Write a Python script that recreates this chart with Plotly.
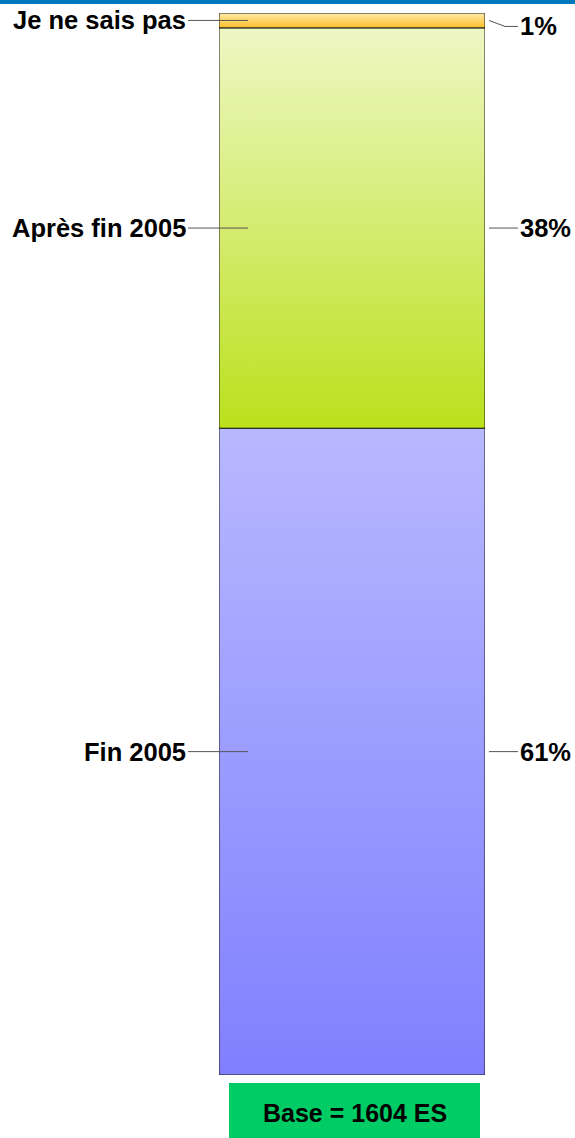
import plotly.graph_objects as go

# Stacked answer shares, bottom to top (segment heights as drawn, printed labels as shown)
categories = ["Fin 2005", "Après fin 2005", "Je ne sais pas"]
values = [60.9, 37.7, 1.4]
pct_labels = ["61%", "38%", "1%"]
base_label = "Base = 1604 ES"

# gradient colours per segment: (bottom, top)
GRADIENTS = [("#8080FF", "#B8B8FF"), ("#BCE01C", "#EEF7C4"), ("#FFBE28", "#FFEBAA")]
EDGE = "#1a1a1a"
LEADER = "#555555"
FONT = "Liberation Sans, Arial, sans-serif"

W, H = 575, 1138
M_L, M_R, M_T, M_B = 219, 90, 13, 63
PLOT_W = W - M_L - M_R
PLOT_H = H - M_T - M_B


def px_x(px):
    return (px - M_L) / PLOT_W


def px_y(py):
    return (H - M_B - py) / PLOT_H


fig = go.Figure()
shapes = []
annotations = []
total = sum(values)

bottom = 0
for cat, val, lab, (c_bot, c_top) in zip(categories, values, pct_labels, GRADIENTS):
    top = bottom + val
    fig.add_trace(go.Scatter(
        x=[-0.5, 0.5, 0.5, -0.5, -0.5], y=[bottom, bottom, top, top, bottom],
        mode="lines", fill="toself", line=dict(color=EDGE, width=1),
        fillgradient=dict(type="vertical", colorscale=[[0, c_bot], [1, c_top]]),
        hoverinfo="skip", showlegend=False,
    ))
    mid = (bottom + top) / 2
    # left label + leader into the bar
    annotations.append(dict(
        x=px_x(188), y=mid, xref="paper", yref="y", xanchor="right", yanchor="middle",
        text="<b>%s</b>" % cat, showarrow=False, font=dict(family=FONT, size=25.5, color="black"),
    ))
    shapes.append(dict(type="line", xref="paper", yref="y", x0=px_x(188), x1=px_x(248),
                       y0=mid, y1=mid, line=dict(color=LEADER, width=1)))
    # right percentage + leader
    small = val < 3
    annotations.append(dict(
        x=px_x(518), y=mid, xref="paper", yref="y", xanchor="left", yanchor="middle",
        yshift=-6 if small else 0,
        text="<b>%s</b>" % lab, showarrow=False, font=dict(family=FONT, size=25.5, color="black"),
    ))
    if small:
        ylow = mid - 6 * total / PLOT_H
        shapes.append(dict(type="path", xref="paper", yref="y",
                           path="M %f,%f L %f,%f L %f,%f" % (px_x(489), mid, px_x(505), ylow, px_x(518), ylow),
                           line=dict(color=LEADER, width=1)))
    else:
        shapes.append(dict(type="line", xref="paper", yref="y", x0=px_x(489), x1=px_x(518),
                           y0=mid, y1=mid, line=dict(color=LEADER, width=1)))
    bottom = top

# blue band along the top edge
shapes.append(dict(type="rect", xref="paper", yref="paper", x0=px_x(0), x1=px_x(W),
                   y0=px_y(4), y1=px_y(0), fillcolor="#0078BE", line=dict(width=0), layer="below"))
# base box under the bar
shapes.append(dict(type="rect", xref="paper", yref="paper", x0=px_x(229), x1=px_x(480),
                   y0=px_y(H), y1=px_y(1083), fillcolor="#00CC66", line=dict(width=0)))
annotations.append(dict(
    x=px_x(354.5), y=px_y(1113), xref="paper", yref="paper", xanchor="center", yanchor="middle",
    text="<b>%s</b>" % base_label, showarrow=False, font=dict(family=FONT, size=25, color="black"),
))

fig.update_layout(
    width=W, height=H, margin=dict(l=M_L, r=M_R, t=M_T, b=M_B, pad=0),
    plot_bgcolor="white", paper_bgcolor="white",
    shapes=shapes, annotations=annotations, showlegend=False,
)
fig.update_xaxes(visible=False, range=[-0.5, 0.5], fixedrange=True)
fig.update_yaxes(visible=False, range=[0, total], fixedrange=True)

# the page's default body margin would push the figure 8px off the corner
fig.write_html("out.html", config={"displayModeBar": False},
               post_script="document.body.style.margin='0';document.body.style.overflow='hidden';")
